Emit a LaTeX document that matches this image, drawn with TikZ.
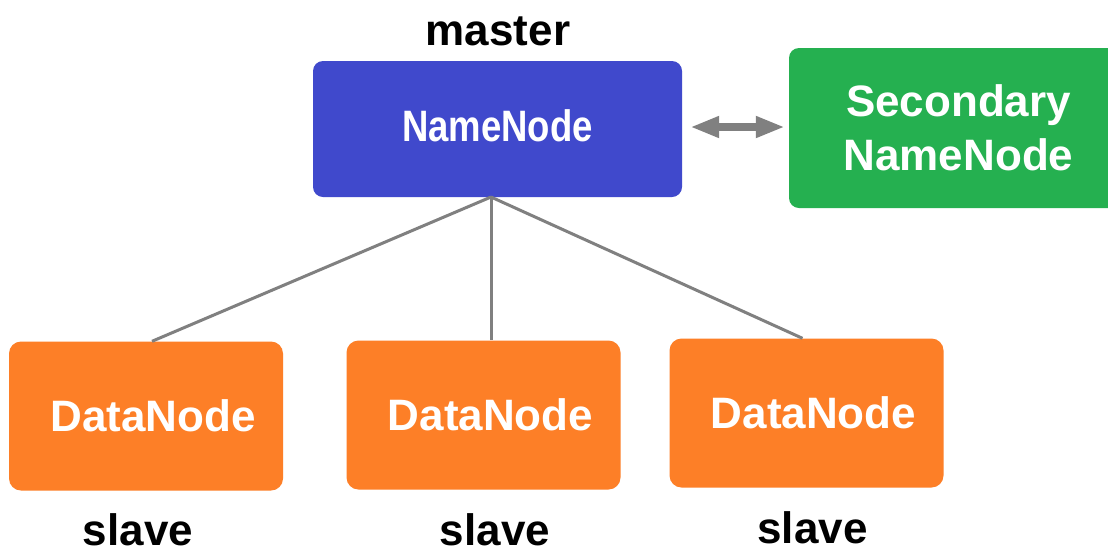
\documentclass[tikz,border=0pt]{standalone}
\usepackage{fontspec}
\setmainfont{Liberation Sans}
\usetikzlibrary{arrows.meta}
\definecolor{nnblue}{RGB}{64,73,204}
\definecolor{snngreen}{RGB}{37,176,80}
\definecolor{dnorange}{RGB}{253,127,39}
\definecolor{lgray}{RGB}{128,128,128}
\tikzset{
  box/.style={rectangle, rounded corners=10pt, inner sep=0pt, text=white,
    font=\fontsize{44}{54}\selectfont\bfseries, align=center},
  nnbox/.style={box, fill=nnblue, minimum width=369pt, minimum height=136pt},
  snnbox/.style={box, fill=snngreen, minimum width=339pt, minimum height=160pt},
  dnbox/.style={box, fill=dnorange, minimum width=274pt, minimum height=149pt, rounded corners=12pt},
  role/.style={anchor=base, inner sep=0pt, font=\fontsize{44}{54}\selectfont\bfseries},
  link/.style={draw=lgray, line width=3pt},
  dbl/.style={draw=lgray, line width=8pt, {Triangle[length=29pt,width=20pt]}-{Triangle[length=29pt,width=20pt]}}
}
\begin{document}
\begin{tikzpicture}[x=1pt,y=-1pt]
\useasboundingbox[fill=white] (0,0) rectangle (1108,550);
\clip (0,0) rectangle (1108,550);
\node[nnbox] (nn) at (497.5,129) {\raisebox{7pt}{\scalebox{0.83}[1]{NameNode}}};
\node[snnbox] (snn) at (958.5,128) {Secondary\\NameNode};
\node[dnbox] (dn1) at (146,416) {\hspace*{14pt}DataNode};
\node[dnbox] (dn2) at (483.5,415) {\hspace*{14pt}DataNode};
\node[dnbox] (dn3) at (806.5,413) {\hspace*{14pt}DataNode};
\node[role] (m) at (498,45) {master};
\node[role] (s1) at (138,545.5) {slave};
\node[role] (s2) at (495,545.5) {slave};
\node[role] (s3) at (812.5,543) {slave};
\coordinate (hub) at (491,197);
\draw[link] (hub) -- ([xshift=6pt]dn1.north);
\draw[link] (hub) -- (hub |- dn2.north);
\draw[link] (hub) -- ([xshift=-4pt]dn3.north);
\draw[dbl, shorten <=8pt, shorten >=4pt] ([yshift=2pt]nn.east) -- ([yshift=2pt]nn.east -| snn.west);
\end{tikzpicture}
\end{document}
